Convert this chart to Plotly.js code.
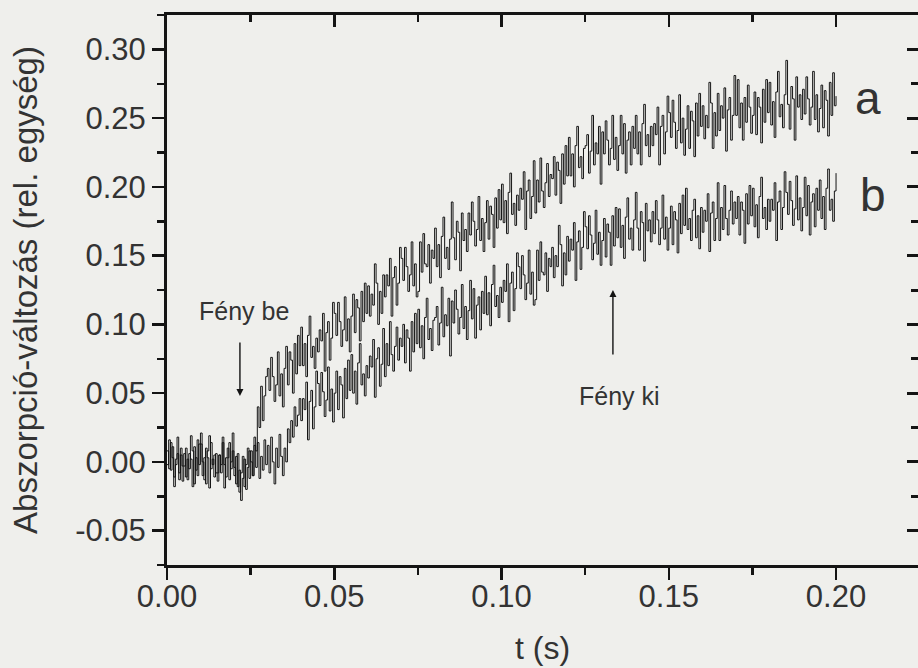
<!DOCTYPE html>
<html>
<head>
<meta charset="utf-8">
<script src="https://cdn.plot.ly/plotly-3.0.1.min.js"></script>
<style>html,body{margin:0;padding:0;background:#efefec;}</style>
</head>
<body>
<div id="chart" style="width:918px;height:668px;"></div>
<script>
// time axis: samples start at t0 and are spaced dt apart (seconds)
const t0 = 0;
const dt = 0.0005;

// trace "a" (absorption change, rel. units), t = 0.0000 ... 0.2000 s
const seriesA = [
  0.008, -0.005, 0.014, 0.003, -0.011, -0.002, 0.018, -0.008, 0.005, -0.014,
  -0.003, 0.010, -0.013, 0.006, 0.002, -0.018, 0.011, -0.006, 0.016, -0.002,
  0.013, -0.010, 0.003, -0.016, 0.008, 0.019, -0.005, 0.002, -0.011, 0.006,
  -0.008, 0.005, -0.002, 0.014, -0.019, 0.003, 0.010, -0.013, 0.000, 0.021,
  -0.010, 0.004, -0.018, -0.006, -0.028, -0.012, 0.002, -0.020, -0.004, 0.008,
  0.000, -0.010, 0.018, 0.008, 0.040, 0.025, 0.055, 0.030, 0.048, 0.062,
  0.068, 0.052, 0.076, 0.062, 0.044, 0.056, 0.080, 0.048, 0.064, 0.040,
  0.068, 0.084, 0.056, 0.080, 0.074, 0.050, 0.086, 0.064, 0.092, 0.070,
  0.098, 0.070, 0.086, 0.062, 0.092, 0.106, 0.076, 0.084, 0.068, 0.090,
  0.080, 0.096, 0.088, 0.108, 0.066, 0.094, 0.102, 0.074, 0.090, 0.116,
  0.108, 0.092, 0.116, 0.102, 0.084, 0.096, 0.120, 0.088, 0.104, 0.080,
  0.106, 0.122, 0.094, 0.118, 0.112, 0.088, 0.124, 0.102, 0.130, 0.108,
  0.128, 0.106, 0.122, 0.114, 0.144, 0.130, 0.100, 0.124, 0.108, 0.136,
  0.120, 0.136, 0.128, 0.148, 0.106, 0.134, 0.142, 0.114, 0.130, 0.156,
  0.148, 0.132, 0.156, 0.142, 0.124, 0.136, 0.160, 0.128, 0.144, 0.120,
  0.124, 0.160, 0.138, 0.166, 0.144, 0.142, 0.158, 0.130, 0.154, 0.148,
  0.170, 0.142, 0.158, 0.134, 0.164, 0.178, 0.148, 0.156, 0.140, 0.162,
  0.189, 0.163, 0.147, 0.175, 0.167, 0.139, 0.181, 0.161, 0.169, 0.153,
  0.181, 0.165, 0.189, 0.175, 0.157, 0.169, 0.193, 0.161, 0.177, 0.153,
  0.174, 0.190, 0.162, 0.186, 0.180, 0.156, 0.192, 0.170, 0.198, 0.176,
  0.202, 0.174, 0.190, 0.166, 0.196, 0.210, 0.180, 0.188, 0.172, 0.194,
  0.183, 0.199, 0.191, 0.211, 0.169, 0.197, 0.205, 0.177, 0.193, 0.219,
  0.181, 0.205, 0.189, 0.221, 0.197, 0.185, 0.203, 0.217, 0.193, 0.209,
  0.206, 0.222, 0.194, 0.218, 0.212, 0.188, 0.224, 0.202, 0.230, 0.208,
  0.236, 0.208, 0.224, 0.200, 0.230, 0.244, 0.214, 0.222, 0.206, 0.228,
  0.230, 0.238, 0.210, 0.226, 0.252, 0.216, 0.232, 0.224, 0.244, 0.202,
  0.240, 0.224, 0.248, 0.234, 0.216, 0.228, 0.252, 0.220, 0.236, 0.212,
  0.230, 0.252, 0.224, 0.246, 0.210, 0.234, 0.240, 0.216, 0.244, 0.228,
  0.252, 0.224, 0.240, 0.216, 0.246, 0.260, 0.230, 0.238, 0.222, 0.244,
  0.230, 0.246, 0.238, 0.258, 0.216, 0.244, 0.252, 0.224, 0.240, 0.266,
  0.254, 0.236, 0.263, 0.247, 0.228, 0.241, 0.267, 0.232, 0.250, 0.223,
  0.242, 0.259, 0.228, 0.255, 0.248, 0.222, 0.261, 0.237, 0.268, 0.244,
  0.259, 0.235, 0.252, 0.243, 0.276, 0.261, 0.228, 0.254, 0.237, 0.268,
  0.241, 0.259, 0.250, 0.272, 0.226, 0.256, 0.265, 0.234, 0.252, 0.281,
  0.252, 0.278, 0.243, 0.261, 0.234, 0.265, 0.247, 0.274, 0.258, 0.239,
  0.252, 0.269, 0.238, 0.265, 0.258, 0.232, 0.271, 0.247, 0.278, 0.254,
  0.276, 0.245, 0.262, 0.236, 0.269, 0.284, 0.251, 0.260, 0.243, 0.267,
  0.292, 0.260, 0.242, 0.273, 0.264, 0.234, 0.280, 0.258, 0.267, 0.249,
  0.271, 0.253, 0.280, 0.264, 0.245, 0.258, 0.284, 0.249, 0.267, 0.240,
  0.257, 0.274, 0.243, 0.270, 0.263, 0.237, 0.276, 0.252, 0.283, 0.259,
  0.266
];

// trace "b", t = 0.0000 ... 0.2000 s
const seriesB = [
  -0.002, 0.016, -0.006, 0.011, -0.018, 0.002, 0.006, -0.013, 0.010, -0.003,
  0.006, -0.011, 0.002, -0.005, 0.019, 0.008, -0.016, 0.003, -0.010, 0.013,
  0.021, 0.000, -0.013, 0.010, 0.003, -0.019, 0.014, -0.002, 0.005, -0.008,
  -0.014, 0.005, -0.008, 0.018, -0.002, -0.011, 0.003, 0.014, -0.005, 0.008,
  -0.004, -0.016, 0.006, -0.022, -0.008, 0.004, -0.018, -0.002, 0.010, -0.012,
  0.008, -0.010, 0.012, -0.004, 0.014, -0.012, 0.004, -0.006, 0.016, -0.002,
  0.012, -0.008, 0.018, 0.000, -0.016, 0.010, -0.004, 0.020, 0.004, -0.010,
  0.010, 0.000, 0.024, 0.014, 0.030, 0.018, 0.040, 0.026, 0.034, 0.046,
  0.030, 0.046, 0.038, 0.058, 0.016, 0.044, 0.052, 0.024, 0.040, 0.066,
  0.057, 0.041, 0.065, 0.051, 0.033, 0.045, 0.069, 0.037, 0.053, 0.029,
  0.050, 0.066, 0.038, 0.062, 0.056, 0.032, 0.068, 0.046, 0.074, 0.052,
  0.078, 0.050, 0.066, 0.042, 0.072, 0.086, 0.056, 0.064, 0.048, 0.070,
  0.061, 0.077, 0.069, 0.089, 0.047, 0.075, 0.083, 0.055, 0.071, 0.097,
  0.062, 0.086, 0.070, 0.102, 0.078, 0.066, 0.084, 0.098, 0.074, 0.090,
  0.084, 0.100, 0.072, 0.096, 0.090, 0.066, 0.102, 0.080, 0.108, 0.086,
  0.111, 0.083, 0.099, 0.075, 0.105, 0.119, 0.089, 0.097, 0.081, 0.103,
  0.105, 0.113, 0.085, 0.101, 0.127, 0.091, 0.107, 0.099, 0.119, 0.077,
  0.117, 0.101, 0.125, 0.111, 0.093, 0.105, 0.129, 0.097, 0.113, 0.089,
  0.110, 0.132, 0.104, 0.126, 0.090, 0.114, 0.120, 0.096, 0.124, 0.108,
  0.135, 0.107, 0.123, 0.099, 0.129, 0.143, 0.113, 0.121, 0.105, 0.127,
  0.116, 0.132, 0.124, 0.144, 0.102, 0.130, 0.138, 0.110, 0.126, 0.152,
  0.142, 0.126, 0.150, 0.136, 0.118, 0.130, 0.154, 0.122, 0.138, 0.114,
  0.118, 0.154, 0.132, 0.160, 0.138, 0.136, 0.152, 0.124, 0.148, 0.142,
  0.156, 0.134, 0.150, 0.142, 0.172, 0.158, 0.128, 0.152, 0.136, 0.164,
  0.146, 0.162, 0.154, 0.174, 0.132, 0.160, 0.168, 0.140, 0.156, 0.182,
  0.171, 0.155, 0.179, 0.165, 0.147, 0.159, 0.183, 0.151, 0.167, 0.143,
  0.161, 0.177, 0.149, 0.173, 0.167, 0.143, 0.179, 0.157, 0.185, 0.163,
  0.184, 0.156, 0.172, 0.148, 0.178, 0.192, 0.162, 0.170, 0.154, 0.176,
  0.196, 0.170, 0.154, 0.182, 0.174, 0.146, 0.188, 0.168, 0.176, 0.160,
  0.182, 0.166, 0.190, 0.176, 0.158, 0.170, 0.194, 0.162, 0.178, 0.154,
  0.170, 0.186, 0.158, 0.182, 0.176, 0.152, 0.188, 0.166, 0.194, 0.172,
  0.199, 0.169, 0.177, 0.161, 0.183, 0.191, 0.163, 0.179, 0.155, 0.185,
  0.167, 0.183, 0.175, 0.195, 0.153, 0.181, 0.189, 0.161, 0.177, 0.203,
  0.161, 0.185, 0.169, 0.201, 0.177, 0.165, 0.183, 0.197, 0.173, 0.189,
  0.177, 0.193, 0.165, 0.189, 0.183, 0.159, 0.195, 0.173, 0.201, 0.179,
  0.199, 0.171, 0.187, 0.163, 0.193, 0.207, 0.177, 0.185, 0.169, 0.191,
  0.175, 0.191, 0.183, 0.203, 0.161, 0.189, 0.197, 0.169, 0.185, 0.211,
  0.196, 0.180, 0.204, 0.190, 0.172, 0.184, 0.208, 0.176, 0.192, 0.168,
  0.185, 0.207, 0.179, 0.201, 0.165, 0.189, 0.195, 0.171, 0.199, 0.183,
  0.205, 0.177, 0.193, 0.169, 0.199, 0.213, 0.183, 0.191, 0.175, 0.197,
  0.210
];

const xTicks = [0.00, 0.05, 0.10, 0.15, 0.20];
const xTickLabels = ["0.00", "0.05", "0.10", "0.15", "0.20"];
const yTicks = [-0.05, 0.00, 0.05, 0.10, 0.15, 0.20, 0.25, 0.30];
const yTickLabels = ["-0.05", "0.00", "0.05", "0.10", "0.15", "0.20", "0.25", "0.30"];

const seriesLabels = ["a", "b"];
const xTitle = "t (s)";
const yTitle = "Abszorpció-változás (rel. egység)";
const lightOn = "Fény be";
const lightOff = "Fény ki";

const ink = "#141414";
const textInk = "#333333";
const font = "Liberation Sans, Arial, sans-serif";

const traces = [
  {x0: t0, dx: dt, y: seriesA, type: "scatter", mode: "lines",
   line: {color: ink, width: 1, shape: "hv"}, hoverinfo: "skip", showlegend: false},
  {x0: t0, dx: dt, y: seriesB, type: "scatter", mode: "lines",
   line: {color: ink, width: 1, shape: "hv"}, hoverinfo: "skip", showlegend: false},
  {x: [null], y: [null], xaxis: "x2", yaxis: "y2", type: "scatter", mode: "lines",
   hoverinfo: "skip", showlegend: false}
];

const xRange = [0, 0.2245];
const yRange = [-0.075, 0.325];

const layout = {
  width: 918, height: 668,
  margin: {l: 167, r: 0, t: 15, b: 103, pad: 0},
  paper_bgcolor: "#efefec",
  plot_bgcolor: "#efefec",
  font: {family: font, color: textInk},
  showlegend: false,
  xaxis: {
    range: xRange, tickmode: "array", tickvals: xTicks, ticktext: xTickLabels,
    ticks: "outside", ticklen: 12, tickwidth: 2.5, tickcolor: ink,
    minor: {dtick: 0.025, tick0: 0, ticks: "outside", ticklen: 7, tickwidth: 2.5, tickcolor: ink},
    showline: true, linewidth: 3, linecolor: ink, showgrid: false, zeroline: false,
    tickfont: {size: 31, color: textInk, family: font}, ticklabelstandoff: -10,
    title: {text: xTitle, font: {size: 32, color: textInk, family: font}, standoff: 24},
    automargin: false
  },
  yaxis: {
    range: yRange, tickmode: "array", tickvals: yTicks, ticktext: yTickLabels,
    ticks: "outside", ticklen: 12, tickwidth: 2.5, tickcolor: ink,
    minor: {dtick: 0.025, tick0: 0, ticks: "outside", ticklen: 7, tickwidth: 2.5, tickcolor: ink},
    showline: true, linewidth: 3, linecolor: ink, showgrid: false, zeroline: false,
    tickfont: {size: 31, color: textInk, family: font}, ticklabelstandoff: 0,
    title: {text: yTitle, font: {size: 33, color: textInk, family: font}, standoff: 28},
    automargin: false
  },
  xaxis2: {
    overlaying: "x", matches: "x", side: "top", anchor: "y2",
    tickmode: "array", tickvals: xTicks, showticklabels: false,
    ticks: "inside", ticklen: 12, tickwidth: 2.5, tickcolor: ink,
    minor: {dtick: 0.025, tick0: 0, ticks: "inside", ticklen: 7, tickwidth: 2.5, tickcolor: ink},
    showline: true, linewidth: 3, linecolor: ink, showgrid: false, zeroline: false
  },
  yaxis2: {
    overlaying: "y", matches: "y", side: "right", anchor: "x2",
    tickmode: "array", tickvals: yTicks, showticklabels: false,
    ticks: "inside", ticklen: 11, tickwidth: 3, tickcolor: ink,
    minor: {dtick: 0.025, tick0: 0, ticks: "inside", ticklen: 7, tickwidth: 3, tickcolor: ink},
    showline: false, showgrid: false, zeroline: false
  },
  annotations: [
    {x: 0.0218, y: 0.048, ax: 0.0218, ay: 0.088, axref: "x", ayref: "y", xref: "x", yref: "y",
     text: "", showarrow: true, arrowhead: 2, arrowsize: 1, arrowwidth: 1.4, arrowcolor: ink},
    {x: 0.1333, y: 0.125, ax: 0.1333, ay: 0.077, axref: "x", ayref: "y", xref: "x", yref: "y",
     text: "", showarrow: true, arrowhead: 2, arrowsize: 1, arrowwidth: 1.4, arrowcolor: ink},
    {x: 0.023, y: 0.110, xref: "x", yref: "y", text: lightOn, showarrow: false,
     font: {size: 25, color: textInk, family: font}},
    {x: 0.1354, y: 0.048, xref: "x", yref: "y", text: lightOff, showarrow: false,
     font: {size: 25, color: textInk, family: font}},
    {x: 0.2096, y: 0.265, xref: "x", yref: "y", text: seriesLabels[0], showarrow: false,
     font: {size: 46, color: textInk, family: font}},
    {x: 0.211, y: 0.194, xref: "x", yref: "y", text: seriesLabels[1], showarrow: false,
     font: {size: 46, color: textInk, family: font}}
  ]
};

Plotly.newPlot("chart", traces, layout, {staticPlot: true, displayModeBar: false});
</script>
</body>
</html>
